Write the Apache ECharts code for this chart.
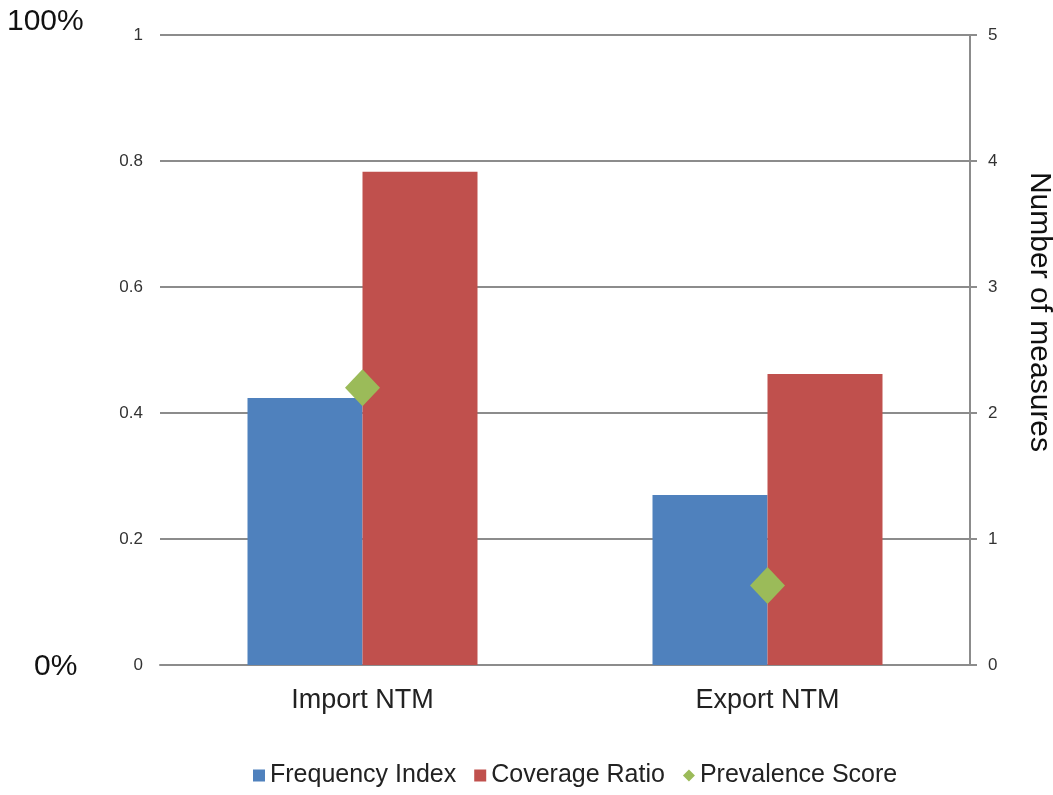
<!DOCTYPE html>
<html>
<head>
<meta charset="utf-8">
<script src="https://cdn.jsdelivr.net/npm/echarts@6/dist/echarts.min.js"></script>
<style>
  html, body { margin: 0; padding: 0; background: #fff; }
  #chart { width: 1053px; height: 795px; }
</style>
</head>
<body>
<div id="chart"></div>
<script>
// NTM indicators per flow direction
const categories = ['Import NTM', 'Export NTM'];
const frequencyIndex = [0.424, 0.27];
const coverageRatio = [0.783, 0.462];
const prevalenceScore = [2.2, 0.63];
const leftTicks = [0, 0.2, 0.4, 0.6, 0.8, 1];
const rightTicks = [0, 1, 2, 3, 4, 5];

const FONT = '"Liberation Sans", Arial, sans-serif';
const GRID_COLOR = '#8c8c8c';

const chart = echarts.init(document.getElementById('chart'));
chart.setOption({
  animation: false,
  backgroundColor: '#ffffff',
  textStyle: { fontFamily: FONT },
  grid: { left: 160, right: 83, top: 35, bottom: 130, containLabel: false },
  legend: {
    bottom: 2,
    left: 248,
    itemWidth: 12,
    itemHeight: 12,
    itemGap: 18,
    textStyle: { fontSize: 25, color: '#222', fontFamily: FONT },
    data: [
      { name: 'Frequency Index', icon: 'rect' },
      { name: 'Coverage Ratio', icon: 'rect' },
      { name: 'Prevalence Score', icon: 'diamond' }
    ]
  },
  xAxis: {
    type: 'category',
    data: categories,
    axisLine: { show: true, lineStyle: { color: GRID_COLOR, width: 2 } },
    axisTick: { show: false },
    axisLabel: { fontSize: 27, color: '#222', margin: 22 }
  },
  yAxis: [
    {
      type: 'value',
      min: 0,
      max: 1,
      interval: 0.2,
      position: 'left',
      axisLine: { show: false },
      axisTick: { show: false },
      axisLabel: {
        fontSize: 17,
        color: '#333',
        margin: 17,
        formatter: v => {
          const t = leftTicks.find(x => Math.abs(x - v) < 1e-9);
          return t === undefined ? '' : String(t);
        }
      },
      splitLine: { show: true, lineStyle: { color: GRID_COLOR, width: 2 } }
    },
    {
      type: 'value',
      min: 0,
      max: 5,
      interval: 1,
      position: 'right',
      axisLine: { show: true, lineStyle: { color: GRID_COLOR, width: 2 } },
      axisTick: { show: true, length: 7, lineStyle: { color: GRID_COLOR, width: 2 } },
      axisLabel: {
        fontSize: 17,
        color: '#333',
        margin: 18,
        formatter: v => {
          const t = rightTicks.find(x => Math.abs(x - v) < 1e-9);
          return t === undefined ? '' : String(t);
        }
      },
      splitLine: { show: false }
    }
  ],
  series: [
    {
      name: 'Frequency Index',
      type: 'bar',
      yAxisIndex: 0,
      data: frequencyIndex,
      barWidth: 115,
      barGap: '0%',
      itemStyle: { color: '#4f81bd' }
    },
    {
      name: 'Coverage Ratio',
      type: 'bar',
      yAxisIndex: 0,
      data: coverageRatio,
      barWidth: 115,
      barGap: '0%',
      itemStyle: { color: '#c0504d' }
    },
    {
      name: 'Prevalence Score',
      type: 'scatter',
      yAxisIndex: 1,
      data: prevalenceScore,
      symbol: 'diamond',
      symbolSize: [35, 37],
      itemStyle: { color: '#9bbb59', opacity: 1 },
      z: 5
    }
  ],
  graphic: [
    {
      type: 'text',
      left: 7,
      top: 7,
      style: { text: '100%', fontSize: 30, fontFamily: FONT, fill: '#111' }
    },
    {
      type: 'text',
      left: 34,
      top: 652,
      style: { text: '0%', fontSize: 30, fontFamily: FONT, fill: '#111' }
    },
    {
      type: 'text',
      x: 1039,
      y: 312,
      rotation: -Math.PI / 2,
      style: {
        text: 'Number of measures',
        fontSize: 30,
        fontFamily: FONT,
        fill: '#111',
        align: 'center',
        verticalAlign: 'middle'
      }
    }
  ]
});
</script>
</body>
</html>
